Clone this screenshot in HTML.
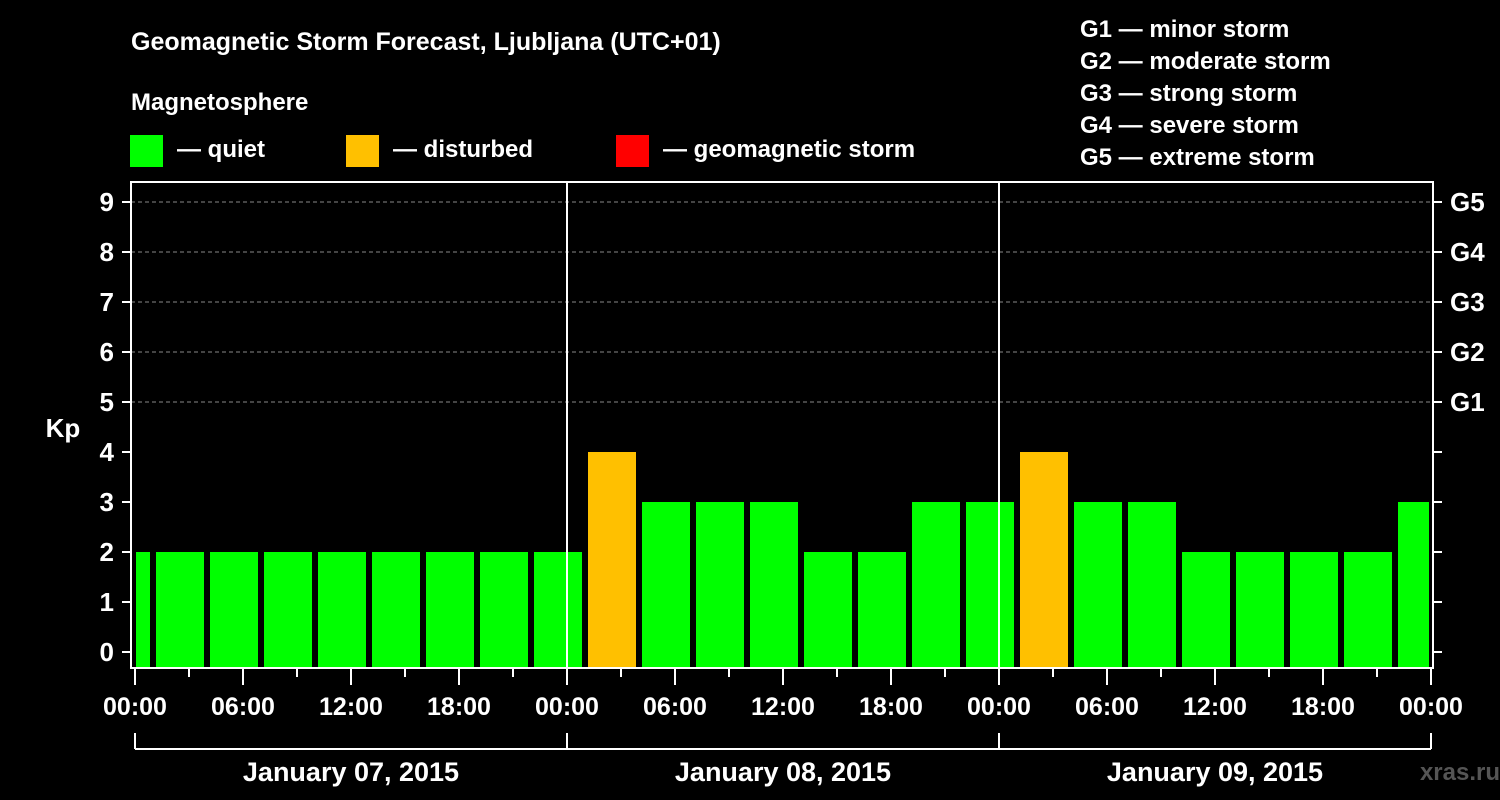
<!DOCTYPE html>
<html><head><meta charset="utf-8"><style>
html,body{margin:0;padding:0;background:#000;}
svg{display:block;font-family:"Liberation Sans",Arial,sans-serif;font-weight:bold;}
</style></head><body>
<svg id="c" width="1500" height="800" viewBox="0 0 1500 800">
<rect width="1500" height="800" fill="#000"/>
<text x="131" y="50" fill="#fff" font-size="25">Geomagnetic Storm Forecast, Ljubljana (UTC+01)</text>
<text x="131" y="110" fill="#fff" font-size="24">Magnetosphere</text>
<g><rect x="130" y="135" width="33" height="32" fill="#00ff00"/><text x="177" y="157" fill="#fff" font-size="24">— quiet</text></g>
<g><rect x="346" y="135" width="33" height="32" fill="#ffc000"/><text x="393" y="157" fill="#fff" font-size="24">— disturbed</text></g>
<g><rect x="616" y="135" width="33" height="32" fill="#ff0000"/><text x="663" y="157" fill="#fff" font-size="24">— geomagnetic storm</text></g>
<g fill="#fff" font-size="24">
<text x="1080" y="37">G1 — minor storm</text>
<text x="1080" y="69">G2 — moderate storm</text>
<text x="1080" y="101">G3 — strong storm</text>
<text x="1080" y="133">G4 — severe storm</text>
<text x="1080" y="165">G5 — extreme storm</text>
</g>
<text x="63" y="437" fill="#fff" font-size="26" text-anchor="middle">Kp</text>
<g id="grid"></g><g id="bars"></g><g id="axes"></g>
<text x="1500" y="780" fill="#555" font-size="24" text-anchor="end">xras.ru</text>
</svg>
<script>
const kpValues=[2,2,2,2,2,2,2,2,2,4,3,3,3,2,2,3,3,4,3,3,2,2,2,2,3];
const yTicks=[0,1,2,3,4,5,6,7,8,9];
const gLabels=["G1","G2","G3","G4","G5"];
const gLevels=[5,6,7,8,9];
const dayLabels=["January 07, 2015","January 08, 2015","January 09, 2015"];
const hourLabels=["00:00","06:00","12:00","18:00"];
const NS="http://www.w3.org/2000/svg";
const L=131,R=1433,T=182,B=668;
const y=v=>652-50*v;
const x=h=>135+18*h;
function mk(tag,attrs,parent,txt){const e=document.createElementNS(NS,tag);for(const k in attrs)e.setAttribute(k,attrs[k]);if(txt!==undefined)e.textContent=txt;parent.appendChild(e);return e;}
const grid=document.getElementById('grid'),bars=document.getElementById('bars'),axes=document.getElementById('axes');
gLevels.forEach((lv,i)=>{
 const g=mk('line',{x1:L,x2:R,y1:y(lv),y2:y(lv),stroke:'#888','stroke-dasharray':'4,3','stroke-width':1},grid);
 
 
 const t=mk('text',{x:1450,y:y(lv)+9,fill:'#fff','font-size':26},axes,gLabels[i]);
 
 
});
kpValues.forEach((v,i)=>{
 let x0=x(3*i-2)+3,x1=x0+48;
 x0=Math.max(x0,136);x1=Math.min(x1,1429);
 const col=v>=5?'#ff0000':(v>=4?'#ffc000':'#00ff00');
 const r=mk('rect',{x:x0,y:y(v),width:x1-x0,height:B-y(v),fill:col},bars);
 
 
});
[1,2].forEach(d=>{const l=mk('line',{x1:x(24*d),x2:x(24*d),y1:T,y2:B,stroke:'#fff','stroke-width':2},axes);
 
 });
const fr=mk('rect',{x:L,y:T,width:R-L,height:B-T,fill:'none',stroke:'#fff','stroke-width':2},axes);


yTicks.forEach(v=>{
 mk('line',{x1:122,x2:L,y1:y(v),y2:y(v),stroke:'#fff','stroke-width':2},axes);
 mk('line',{x1:R,x2:1442,y1:y(v),y2:y(v),stroke:'#fff','stroke-width':2},axes);
 const t=mk('text',{x:114,y:y(v)+9,fill:'#fff','font-size':26,'text-anchor':'end'},axes,v);
 
 
});
for(let h=0;h<=72;h+=3){
 const major=h%6===0;
 mk('line',{x1:x(h),x2:x(h),y1:B,y2:major?685:677,stroke:'#fff','stroke-width':2},axes);
 if(major&&h%6===0){
  const t=mk('text',{x:x(h),y:715,fill:'#fff','font-size':25,'text-anchor':'middle'},axes,hourLabels[(h/6)%4]);
  
  
 }
}
mk('line',{x1:x(0),x2:x(72),y1:749,y2:749,stroke:'#fff','stroke-width':2},axes);
for(let d=0;d<=3;d++)mk('line',{x1:x(24*d),x2:x(24*d),y1:733,y2:749,stroke:'#fff','stroke-width':2},axes);
dayLabels.forEach((s,d)=>{
 const t=mk('text',{x:x(24*d+12),y:781,fill:'#fff','font-size':27,'text-anchor':'middle'},axes,s);
 
 
});
</script>
</body></html>
